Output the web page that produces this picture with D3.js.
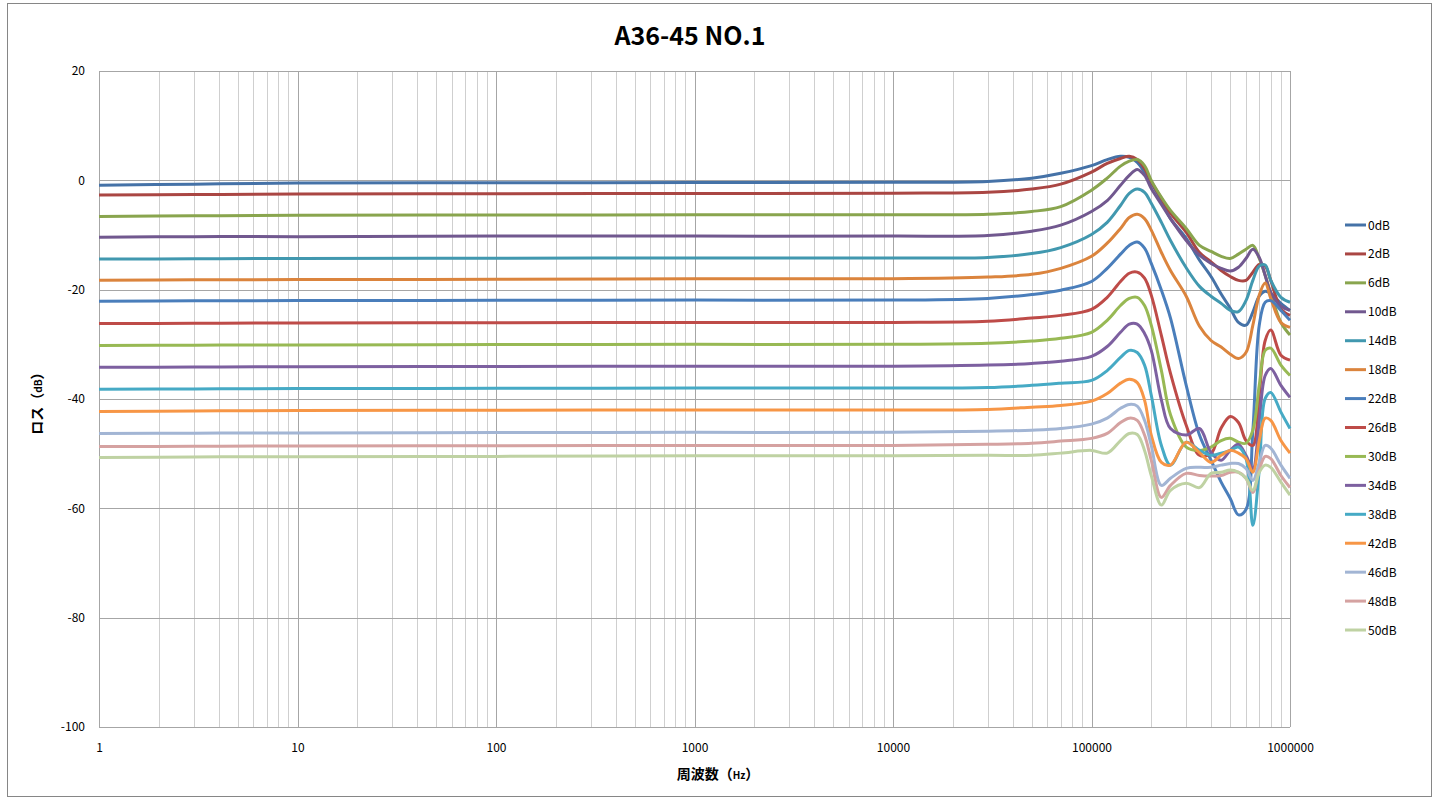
<!DOCTYPE html>
<html>
<head>
<meta charset="utf-8">
<script src="https://cdn.jsdelivr.net/npm/d3@7"></script>
<style>
  body { margin: 0; background: #fff; }
</style>
</head>
<body>
<div id="chart"></div>
<script>
// Frequencies (Hz) shared by every series
const freqs = [1, 3, 10, 100, 1000, 10000, 30000, 50000, 70000, 100000, 120000, 140000, 155000, 170000, 185000,
    200000, 225000, 250000, 300000, 350000, 400000, 450000, 500000, 550000, 600000, 650000, 700000, 750000,
    800000, 900000, 1000000];

// Loss values (dB), one array per attenuation setting
const loss0 = [-0.9, -0.7, -0.5, -0.45, -0.4, -0.35, -0.2, 0.4, 1.3, 2.7, 3.8, 4.4, 4.2, 3.3, 1.5,
    -0.5, -3.7, -7.0, -10.6, -14.6, -17.6, -20.8, -23.4, -26, -26.5, -24.1, -21.2, -20.3, -20.7, -22.5, -23.8];
const loss2 = [-2.7, -2.6, -2.5, -2.45, -2.4, -2.35, -2.2, -1.6, -0.7, 1.5, 3.1, 4.0, 4.4, 3.8, 2.2,
    -0.2, -3.3, -6.0, -9.5, -13.2, -14.9, -16.5, -17.6, -18.3, -18.3, -16.8, -15.4, -15.7, -18.3, -23.5, -24.7];
const loss6 = [-6.6, -6.5, -6.4, -6.35, -6.3, -6.3, -6.2, -5.7, -4.8, -1.8, 0.4, 2.6, 3.5, 3.8, 2.7,
    0, -3.1, -5.5, -8.8, -11.9, -13.0, -13.9, -14.3, -13.5, -12.6, -11.9, -14.3, -17.4, -20.7, -26, -28.3];
const loss10 = [-10.4, -10.3, -10.3, -10.2, -10.2, -10.2, -10.1, -9.3, -8.2, -5.7, -3.7, -0.9, 0.9, 2.0, 0.9,
    -1.5, -4.4, -7.0, -11, -13.7, -15.2, -16.1, -16.6, -15.9, -14.3, -12.6, -14.1, -17.4, -20.5, -23, -23.8];
const loss14 = [-14.4, -14.35, -14.3, -14.25, -14.2, -14.2, -14.1, -13.4, -12.3, -9.9, -7.7, -4.6, -2.4, -1.6, -2.2,
    -4.2, -7.7, -11, -16, -19.4, -21.2, -22.5, -23.8, -24, -22, -18.3, -15.7, -15.5, -18.3, -21.4, -22.3];
const loss18 = [-18.3, -18.2, -18.15, -18.1, -18, -18, -17.7, -17.2, -16.1, -13.9, -11.5, -8.8, -6.8, -6.2, -7.0,
    -9.1, -13.2, -16.5, -21.2, -26.7, -29.3, -30.5, -31.8, -32.6, -31.5, -26.5, -21, -18.8, -21.6, -26, -26.9];
const loss22 = [-22.1, -22.05, -22, -21.95, -21.9, -21.9, -21.6, -20.9, -20.1, -18.5, -16.1, -13.5, -11.9, -11.3, -12.4,
    -15.2, -20.1, -25.2, -37.5, -46.6, -51.2, -55.2, -58.2, -61.2, -60.2, -45.7, -26.5, -22.3, -22, -23.8, -25.6];
const loss26 = [-26.2, -26.15, -26.1, -26.05, -26, -26, -25.8, -25.2, -24.7, -23.6, -21.4, -18.5, -17, -16.8, -17.9,
    -21, -28.4, -35.3, -44.8, -50.3, -50, -45.3, -43.2, -44.3, -47.6, -48.5, -39.3, -29.3, -27.4, -32, -32.9];
const loss30 = [-30.2, -30.15, -30.1, -30.05, -30, -30, -29.8, -29.4, -28.9, -27.8, -25.6, -22.9, -21.6, -21.4, -22.9,
    -26.5, -34.8, -42.9, -48.8, -49.4, -48.8, -47.6, -47.2, -47.9, -48.1, -45.7, -37.5, -31.1, -30.7, -33.8, -35.7];
const loss34 = [-34.2, -34.15, -34.1, -34.05, -34, -34, -33.8, -33.5, -33.1, -32.2, -30.4, -27.8, -26.3, -26.3, -28,
    -31.1, -40.2, -45.4, -46.6, -45.4, -49.8, -51.2, -49.4, -48.3, -50.3, -52.7, -43.9, -35.7, -34.4, -37.5, -39.7];
const loss38 = [-38.2, -38.15, -38.1, -38.05, -38, -38, -37.9, -37.5, -37.1, -36.6, -34.8, -32.4, -31.1, -31.5, -33.8,
    -39.3, -48.5, -52.1, -47.9, -49.4, -50.3, -49.9, -49.4, -48.8, -50.9, -63.1, -53, -39.9, -38.8, -42.4, -45.4];
const loss42 = [-42.3, -42.2, -42.1, -42.05, -42, -42, -41.9, -41.5, -41.2, -40.4, -39, -37.1, -36.4, -37, -40.2,
    -46.6, -51.6, -52.1, -47.9, -49.8, -51.6, -50.3, -49.4, -49.9, -50.9, -53.4, -47.6, -43.5, -43.9, -47.6, -49.9];
const loss46 = [-46.3, -46.25, -46.2, -46.15, -46.1, -46.1, -45.9, -45.7, -45.4, -44.6, -43.5, -41.7, -41, -41.3, -43.9,
    -48.5, -55.8, -54.5, -52.7, -52.5, -52.5, -52.1, -51.8, -51.8, -52.7, -54.9, -51.6, -48.5, -49, -52.1, -54.5];
const loss48 = [-48.7, -48.65, -48.6, -48.55, -48.5, -48.5, -48.3, -48.1, -47.7, -47.2, -46.3, -44.3, -43.5, -43.9, -46.6,
    -51.2, -58, -55.8, -53.6, -54, -54.1, -54, -53.4, -53.4, -54.5, -57.1, -53, -50.5, -50.9, -54, -56.2];
const loss50 = [-50.7, -50.6, -50.55, -50.5, -50.4, -50.4, -50.3, -50.3, -49.9, -49.4, -49.9, -47.6, -46.3, -46.5, -49.4,
    -54, -59.4, -56.7, -55.4, -56.2, -53.6, -53.4, -53, -53.4, -54.5, -56.7, -53.4, -52.1, -52.5, -55.2, -57.6];

const seriesNames = ["0dB", "2dB", "6dB", "10dB", "14dB", "18dB", "22dB", "26dB", "30dB", "34dB", "38dB", "42dB", "46dB", "48dB", "50dB"];
const seriesValues = [loss0, loss2, loss6, loss10, loss14, loss18, loss22, loss26, loss30, loss34, loss38, loss42, loss46, loss48, loss50];
const seriesColors = ["#4572A7", "#AA4643", "#89A54E", "#71588F", "#4198AF", "#DB843D",
    "#4A7EBB", "#BE4B48", "#98B954", "#7D60A0", "#46AAC5", "#F79646",
    "#A2B5D4", "#D5A2A1", "#BFD2A3"];

const xTicks = [1, 10, 100, 1000, 10000, 100000, 1000000];
const yTicks = [-100, -80, -60, -40, -20, 0, 20];

// Layout
const W = 1439, H = 799;
const plot = { left: 99, right: 1290, top: 71, bottom: 727 };
const FONT = "'Noto Sans CJK JP', 'Noto Sans', sans-serif";

function drawChart() {
    const svg = d3.select("#chart")
        .append("svg")
        .attr("width", W)
        .attr("height", H)
        .attr("font-family", FONT);

    // outer chart frame
    svg.append("rect")
        .attr("x", 7.5).attr("y", 3.5)
        .attr("width", 1424).attr("height", 793)
        .attr("fill", "#fff")
        .attr("stroke", "#868686");

    const x = d3.scaleLog().domain([1, 1000000]).range([plot.left, plot.right]);
    const y = d3.scaleLinear().domain([-100, 20]).range([plot.bottom, plot.top]);

    // minor vertical grid
    const minor = [];
    for (let d = 1; d < 1000000; d *= 10) {
        for (let k = 2; k <= 9; k++) minor.push(d * k);
    }
    svg.append("g")
        .selectAll("line")
        .data(minor)
        .enter()
        .append("line")
        .attr("x1", d => Math.round(x(d)) + 0.5)
        .attr("x2", d => Math.round(x(d)) + 0.5)
        .attr("y1", plot.top)
        .attr("y2", plot.bottom)
        .attr("stroke", "#cfcfcf");

    // major vertical grid
    svg.append("g")
        .selectAll("line")
        .data(xTicks)
        .enter()
        .append("line")
        .attr("x1", d => Math.round(x(d)) + 0.5)
        .attr("x2", d => Math.round(x(d)) + 0.5)
        .attr("y1", plot.top)
        .attr("y2", plot.bottom)
        .attr("stroke", "#a6a6a6");

    // horizontal grid
    svg.append("g")
        .selectAll("line")
        .data(yTicks)
        .enter()
        .append("line")
        .attr("x1", plot.left)
        .attr("x2", plot.right)
        .attr("y1", d => Math.round(y(d)) + 0.5)
        .attr("y2", d => Math.round(y(d)) + 0.5)
        .attr("stroke", "#a6a6a6");

    // axes (labels only, Excel style)
    const xAxis = d3.axisBottom(x)
        .tickValues(xTicks)
        .tickFormat(d => String(d))
        .tickSize(0)
        .tickPadding(16);
    const xg = svg.append("g")
        .attr("transform", `translate(0,${plot.bottom})`)
        .call(xAxis);
    xg.select(".domain").remove();
    xg.selectAll("text")
        .attr("font-size", "12px")
        .attr("font-family", FONT)
        .attr("fill", "#000");

    const yAxis = d3.axisLeft(y)
        .tickValues(yTicks)
        .tickFormat(d => String(d))
        .tickSize(0)
        .tickPadding(14);
    const yg = svg.append("g")
        .attr("transform", `translate(${plot.left},0)`)
        .call(yAxis);
    yg.select(".domain").remove();
    yg.selectAll("text")
        .attr("font-size", "12px")
        .attr("font-family", FONT)
        .attr("fill", "#000");

    // series lines
    const line = d3.line()
        .x((d, i) => x(freqs[i]))
        .y(d => y(d))
        .curve(d3.curveCatmullRom.alpha(0.5));

    svg.append("g")
        .selectAll("path")
        .data(seriesValues)
        .enter()
        .append("path")
        .attr("d", d => line(d))
        .attr("fill", "none")
        .attr("stroke", (d, i) => seriesColors[i])
        .attr("stroke-width", 3)
        .attr("stroke-linejoin", "round");

    // title
    svg.append("text")
        .attr("x", 690)
        .attr("y", 45)
        .attr("text-anchor", "middle")
        .attr("font-size", "25px")
        .attr("font-weight", "bold")
        .text("A36-45 NO.1");

    // axis titles
    const xt = svg.append("text")
        .attr("x", 718)
        .attr("y", 779)
        .attr("text-anchor", "middle")
        .attr("font-size", "14px")
        .attr("font-weight", "bold");
    xt.append("tspan").text("周波数（");
    xt.append("tspan").attr("font-size", "10px").text("Hz");
    xt.append("tspan").text("）");

    const yt = svg.append("text")
        .attr("transform", "translate(42,400) rotate(-90)")
        .attr("text-anchor", "middle")
        .attr("font-size", "14px")
        .attr("font-weight", "bold");
    yt.append("tspan").text("ロス（");
    yt.append("tspan").attr("font-size", "10px").text("dB");
    yt.append("tspan").text("）");

    // legend
    const legend = svg.append("g")
        .selectAll("g")
        .data(seriesNames)
        .enter()
        .append("g")
        .attr("transform", (d, i) => `translate(1345,${225 + i * 28.93})`);
    legend.append("line")
        .attr("x1", 0).attr("x2", 21)
        .attr("y1", 0).attr("y2", 0)
        .attr("stroke", (d, i) => seriesColors[i])
        .attr("stroke-width", 3);
    legend.append("text")
        .attr("x", 23)
        .attr("y", 4.5)
        .attr("font-size", "12px")
        .text(d => d);
}

drawChart();
</script>
</body>
</html>
